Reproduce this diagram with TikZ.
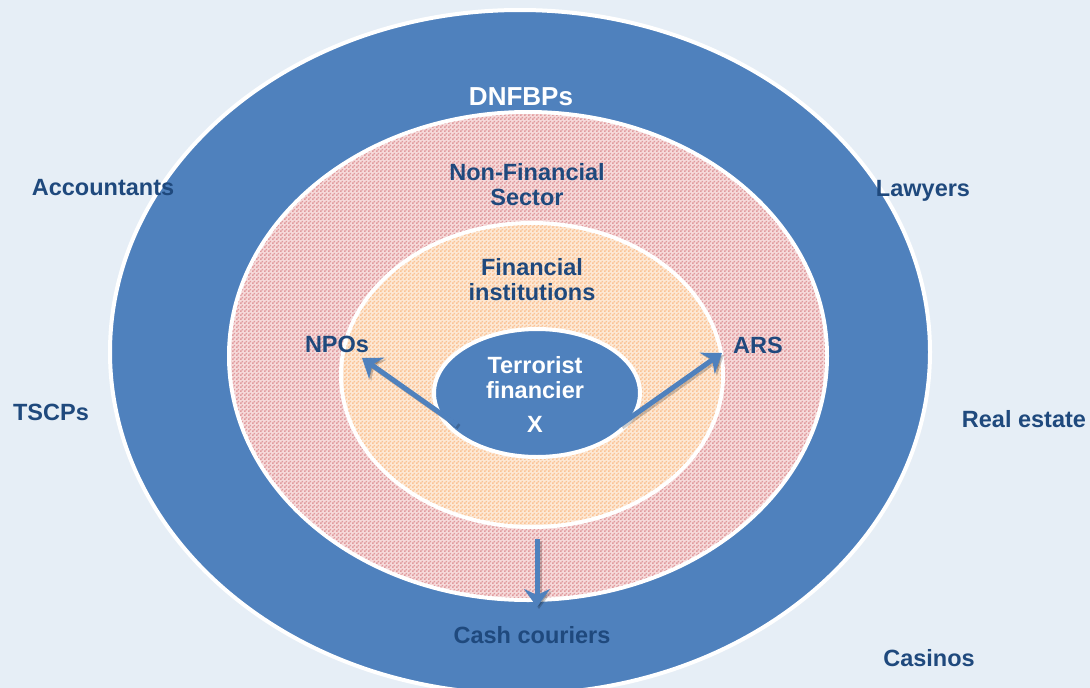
\documentclass[tikz,border=0pt]{standalone}
\usepackage{fontspec}
\setmainfont{Liberation Sans}
\usetikzlibrary{arrows.meta,patterns.meta}

\definecolor{canvas}{HTML}{E6EEF6}
\definecolor{ringblue}{HTML}{4F81BD}
\definecolor{labelnavy}{HTML}{1F497D}
\definecolor{pinklight}{HTML}{F6DADA}
\definecolor{pinkdot}{HTML}{E09A9D}
\definecolor{orangelight}{HTML}{FDE8D4}
\definecolor{orangedot}{HTML}{FAC295}

% small 2x2 checker used for the two dotted rings
\pgfdeclarepattern{
	name=checker, type=uncolored,
	bottom left={\pgfpointorigin}, top right={\pgfpoint{4pt}{4pt}},
	tile size={\pgfpoint{4pt}{4pt}},
	code={
		\pgfpathrectangle{\pgfpointorigin}{\pgfpoint{2pt}{2pt}}
		\pgfpathrectangle{\pgfpoint{2pt}{2pt}}{\pgfpoint{2pt}{2pt}}
		\pgfusepath{fill}
	}
}

\begin{document}
\begin{tikzpicture}[x=1pt, y=-1pt,
	ring/.style={draw=white, line width=4pt},
	lbl/.style={text=labelnavy, font=\bfseries\fontsize{23.5}{25}\selectfont, align=center, inner sep=0pt},
	flow/.style={draw=ringblue, line width=5pt, -{Stealth[length=18pt,width=26pt,inset=6pt]}},
	flowshadow/.style={flow, draw=black, opacity=0.2, transform canvas={shift={(2,2)}}}]
		\fill[canvas] (0,0) rectangle (1090,688);
		\useasboundingbox (0,0) rectangle (1090,688);
		
		% the four nested sectors
		\draw[ring, fill=ringblue] (520,352) ellipse (410 and 342);
		\draw[ring, fill=pinklight] (528,356) ellipse (299 and 244);
		\fill[pattern=checker, pattern color=pinkdot] (528,356) ellipse (297 and 242);
		\draw[ring, fill=orangelight] (532,375) ellipse (191 and 152);
		\fill[pattern=checker, pattern color=orangedot] (532,375) ellipse (189 and 150);
		\draw[ring, fill=ringblue] (537,393) ellipse (103 and 64);
		
		\coordinate (npoTail) at (457,425);
		\coordinate (npoTip) at (362,358);
		\coordinate (arsTail) at (620,425);
		\coordinate (arsTip) at (722,353);
		\coordinate (cashTail) at (537,539);
		\coordinate (cashTip) at (537,607);
		
		\draw[flowshadow] (npoTail) -- (npoTip);
		\draw[flowshadow] (arsTail) -- (arsTip);
		\draw[flowshadow] (cashTail) -- (cashTip);
		\draw[flow] (npoTail) -- (npoTip);
		\draw[flow] (arsTail) -- (arsTip);
		\draw[flow] (cashTail) -- (cashTip);
		
		\node[lbl, text=white, font=\bfseries\fontsize{26}{28}\selectfont, anchor=base] (dnfbp) at (521,105) {DNFBPs};
		\node[lbl] (nonfin) at (527,185) {Non-Financial\\Sector};
		\node[lbl] (fininst) at (532,280) {Financial\\institutions};
		\node[lbl, text=white] (financier) at (535,394) {Terrorist\\financier\\[9pt]X};
		\node[lbl, anchor=base] (npo) at (337,352) {NPOs};
		\node[lbl, anchor=base] (ars) at (758,353) {ARS};
		\node[lbl, anchor=base] (cash) at (532,643) {Cash couriers};
		
		% businesses outside the rings
		\node[lbl, anchor=base] (acct) at (103,195) {Accountants};
		\node[lbl, anchor=base] (lawyer) at (923,196) {Lawyers};
		\node[lbl, anchor=base] (tscp) at (51,420) {TSCPs};
		\node[lbl, anchor=base] (estate) at (1024,427) {Real estate};
		\node[lbl, anchor=base] (casino) at (929,666) {Casinos};
	\end{tikzpicture}
\end{document}
